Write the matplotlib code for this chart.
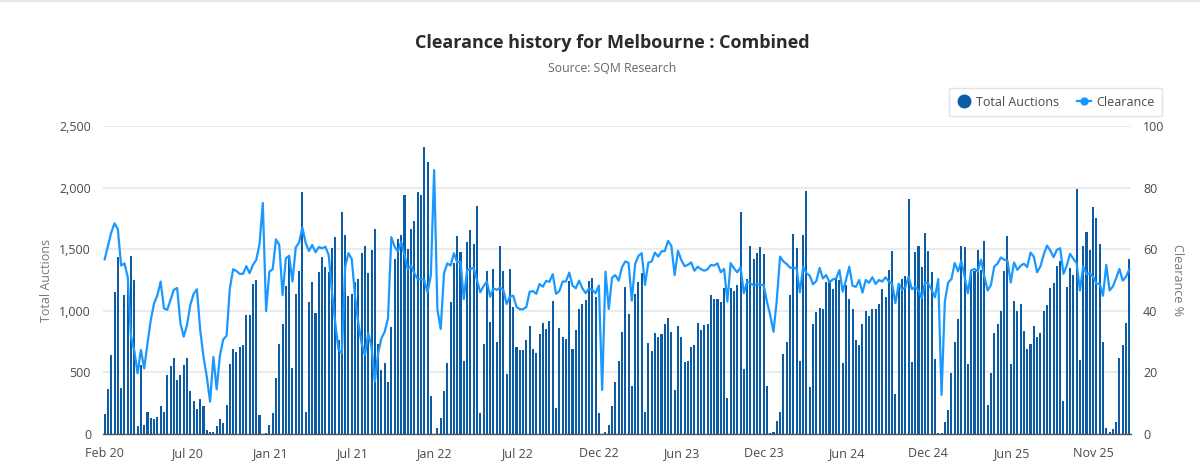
import matplotlib
matplotlib.use("Agg")
import matplotlib.pyplot as plt
from matplotlib.lines import Line2D

plt.rcParams['font.family'] = ['Open Sans', 'DejaVu Sans']

tick_labels = ["Feb 20", "Jul 20", "Jan 21", "Jul 21", "Jan 22", "Jul 22", "Dec 22",
               "Jun 23", "Dec 23", "Jun 24", "Dec 24", "Jun 25", "Nov 25"]

# weekly values
auctions = [
    162, 363, 644, 1155, 1440, 370, 1125, 1240, 1448, 1250, 65, 560, 73, 176, 133, 119, 138, 227, 176, 476,
    555, 614, 438, 476, 563, 614, 352, 270, 206, 284, 227, 30, 16, 14, 65, 124, 89, 233, 571, 687,
    668, 704, 725, 966, 966, 1215, 1253, 154, 0, 5, 73, 168, 455, 733, 893, 1201, 1448, 533, 1136, 1323,
    1962, 176, 1069, 1231, 980, 1318, 1437, 1353, 1318, 1507, 1602, 763, 1800, 1618, 1120, 1134, 1231, 1258,
    1472, 1523, 1304, 1494, 1661, 731, 520, 579, 425, 871, 1421, 1583, 1613, 1940, 1502, 1661, 1729, 1962, 1940, 2327,
    2211, 308, 0, 51, 133, 352, 579, 1069, 1385, 1610, 1480, 595, 1559, 1653, 1545, 1854, 168, 728, 1326, 909,
    1342, 747, 1523, 1326, 484, 1342, 1034, 709, 682, 682, 763, 879, 690, 660, 814, 904, 850, 917, 1080, 214,
    858, 785, 768, 1242, 690, 844, 1017, 1055, 1085, 1245, 1266, 1115, 170, 0, 14, 73, 227, 425, 593,
    828, 1193, 974, 390, 1137, 1231, 1310, 176, 741, 674, 820, 790, 812, 893, 944, 828, 357, 879, 785, 587,
    593, 704, 720, 901, 844, 885, 893, 1128, 1099, 1099, 1069, 1188, 292, 1188, 1158, 1210, 1802, 528, 1258, 1526,
    1421, 1467, 1518, 1464, 390, 8, 14, 108, 181, 649, 747, 1128, 1626, 1510, 593, 1613, 1970, 379, 893, 990,
    1026, 1017, 1231, 1231, 1177, 1258, 1247, 579, 1210, 1099, 1017, 763, 720, 893, 999, 961, 1012, 1017, 1055,
    1178, 1108, 1332, 1487, 325, 1219, 1259, 1284, 1906, 585, 1481, 1530, 1354, 1628, 1487, 1313, 607, 5, 5, 95,
    195, 498, 747, 937, 1530, 1516, 571, 1332, 1319, 1495, 1332, 1568, 236, 498, 823, 894, 997, 1327, 1606, 571,
    1078, 997, 1056, 834, 691, 731, 877, 791, 823, 997, 1048, 1186, 1224, 1365, 1403, 271, 1192, 1349, 1292, 1988,
    598, 1530, 1641, 1495, 1841, 1752, 1546, 747, 49, 14, 41, 95, 617, 720, 902, 1422,
]

clearance = [
    56.7, 61, 65.4, 68.4, 66.5, 54.7, 55.4, 51, 31.6, 27, 19.7, 27.3, 21.3, 29.4, 37, 42.4, 45, 49.5, 40.8, 40.3,
    43.5, 46.8, 47.4, 35.9, 31.6, 35.4, 41.9, 45.5, 47, 33.8, 25.1, 18.6, 10.5, 25, 14.5, 25.6, 30.7, 31.9, 47.3, 53.5,
    52.9, 52, 52, 54.5, 52.2, 54.9, 56.5, 61.6, 75, 39.9, 52.7, 53.5, 63.2, 61.4, 45.1, 57, 57.9, 49.5, 60.6, 62.1,
    67.1, 62.1, 59.4, 61.4, 59, 60.7, 60.3, 60.8, 58.1, 46.2, 35.9, 27.3, 26.2, 54.3, 58.7, 56.8, 44.6, 35.9,
    29.4, 25.6, 32.7, 28.4, 17, 26.2, 31.1, 33.2, 37.6, 63.9, 60.8, 59.2, 62.4, 58.1, 53.5, 54.7, 52.2, 50.3, 50.3, 50,
    45.9, 51.6, 85.7, 40.3, 34.1, 52.2, 55.4, 54.7, 58.7, 55.7, 56, 43.8, 53.2, 53.5, 54, 50, 46, 48, 49.5, 44.6,
    47.3, 46.8, 47.5, 46.8, 42.2, 44.6, 44.9, 41.3, 40.5, 40.5, 41.3, 46.2, 46.4, 45.5, 48.7, 47.8, 49.7, 49.4, 51.9, 45.5,
    46.4, 49.5, 49.5, 52.4, 48.2, 47.3, 49.8, 47.3, 45.7, 47.3, 46.8, 45.7, 48.2, 14.3, 52.7, 40.6, 50.8, 51.6, 49.8,
    54.1, 56, 55.6, 43.3, 55.2, 57.8, 58.7, 48.4, 55.6, 56, 58.9, 57.6, 59.3, 59.4, 62.7, 61.1, 51.6, 59.5, 56.5, 54.5,
    54.9, 55.7, 53, 54.3, 53.5, 53, 53.5, 54.9, 54.7, 55.4, 52.5, 53.6, 43, 55.5, 53.8, 52.5, 54.1, 45.7, 49.5, 48.9,
    48.2, 48.7, 48.4, 48.4, 43, 38.6, 33.2, 43.5, 57.6, 56, 55.2, 54, 54, 53.8, 46, 54.3, 52.2, 51.4, 48.6, 49.7,
    53.9, 50.5, 51.6, 49.2, 50.2, 50.5, 53.2, 46.2, 50, 54.3, 48.1, 47.8, 50, 45.9, 50, 49.1, 50.9, 48.7, 50,
    49.5, 50.9, 49.5, 48.8, 42.5, 48.8, 46.8, 47.7, 51.1, 47, 47.7, 46.6, 44.1, 49.3, 48.8, 46.8, 44.4, 50.3, 12.7, 43,
    49.2, 50.3, 55.5, 52.8, 56.2, 51.1, 45.7, 53.1, 53.6, 52.8, 56.6, 51.1, 46.6, 48.4, 54.4, 55.3, 57.3, 56.6, 56.3, 49.2,
    55.7, 53.3, 54.6, 55.3, 54.2, 58.9, 57.6, 52.5, 54.4, 58.2, 61.2, 59.6, 57.4, 59.8, 60.3, 52, 54.7, 58.5, 56.9, 55.5,
    46.6, 54.4, 51.9, 52.2, 51.1, 48.8, 48.8, 44.9, 54.9, 46.6, 47.9, 50.6, 53.6, 49.8, 51.1, 53.5,
]

color_bar = "#0b5ca5"
color_line = "#1a98ff"
color_tick = "#4a4a4a"
color_axis = "#777777"

x = list(range(len(auctions)))

W, H = 1200, 470
fig = plt.figure(figsize=(W / 100, H / 100), dpi=100)
ax = fig.add_axes([103 / W, (H - 434) / H, 1028 / W, 308 / H])

ax.bar(x, auctions, width=0.62, color=color_bar, zorder=2)
ax.set_xlim(-0.5, len(x) - 0.5)
ax.set_ylim(0, 2500)
ax.set_yticks([0, 500, 1000, 1500, 2000, 2500])
ax.set_yticklabels(["0", "500", "1,000", "1,500", "2,000", "2,500"])
ax.set_xticks(x[::25])
ax.set_xticklabels(tick_labels)
ax.grid(axis="y", color="#e8e8e8", lw=1.2, zorder=0)
ax.set_axisbelow(True)
ax.tick_params(axis="y", length=0, pad=8.6, labelsize=9, labelcolor=color_tick)
ax.tick_params(axis="x", length=0, pad=9.5, labelsize=9, labelcolor=color_tick)
for s in ["top", "right", "left"]:
    ax.spines[s].set_visible(False)
ax.spines["bottom"].set_color("#555555")
ax.spines["bottom"].set_linewidth(1.0)
ax.set_ylabel("Total Auctions", fontsize=9, color=color_axis, va="center")
ax.yaxis.set_label_coords((46 - 103) / 1028, 0.5)

ax2 = ax.twinx()
ax2.plot(x, clearance, color=color_line, lw=1.6, solid_joinstyle="round", zorder=3)
ax2.set_ylim(0, 100)
ax2.set_yticks([0, 20, 40, 60, 80, 100])
ax2.tick_params(axis="y", length=0, pad=8.6, labelsize=9, labelcolor=color_tick)
for s in ax2.spines.values():
    s.set_visible(False)
ax2.set_ylabel("Clearance %", fontsize=9, color=color_axis, rotation=270, va="center")
ax2.yaxis.set_label_coords((1178 - 103) / 1028, 0.5)

fig.text(612 / W, 1 - 43.5 / H, "Clearance history for Melbourne : Combined", ha="center", va="center",
         fontsize=13, fontweight="bold", color="#2b2b2b")
fig.text(612 / W, 1 - 68.5 / H, "Source: SQM Research", ha="center", va="center",
         fontsize=8.8, color="#666666")

handles = [
    Line2D([], [], ls="none", marker="o", ms=9, color=color_bar),
    Line2D([], [], color=color_line, lw=1.6, marker="o", ms=5),
]
fig.legend(handles, ["Total Auctions", "Clearance"], loc="upper right",
           bbox_to_anchor=(1162 / W, 1 - 88 / H), ncol=2, frameon=True, fancybox=False,
           edgecolor="#dddddd", fontsize=9, labelcolor=color_tick, borderaxespad=0,
           handlelength=1.1, columnspacing=1.4, handletextpad=0.45, borderpad=0.6)

# thin strip at the very top of the page
fig.add_artist(Line2D([0, 1], [1 - 1 / H, 1 - 1 / H], color="#e6e6e6", lw=1.5))

fig.savefig("out.png", dpi=100)
